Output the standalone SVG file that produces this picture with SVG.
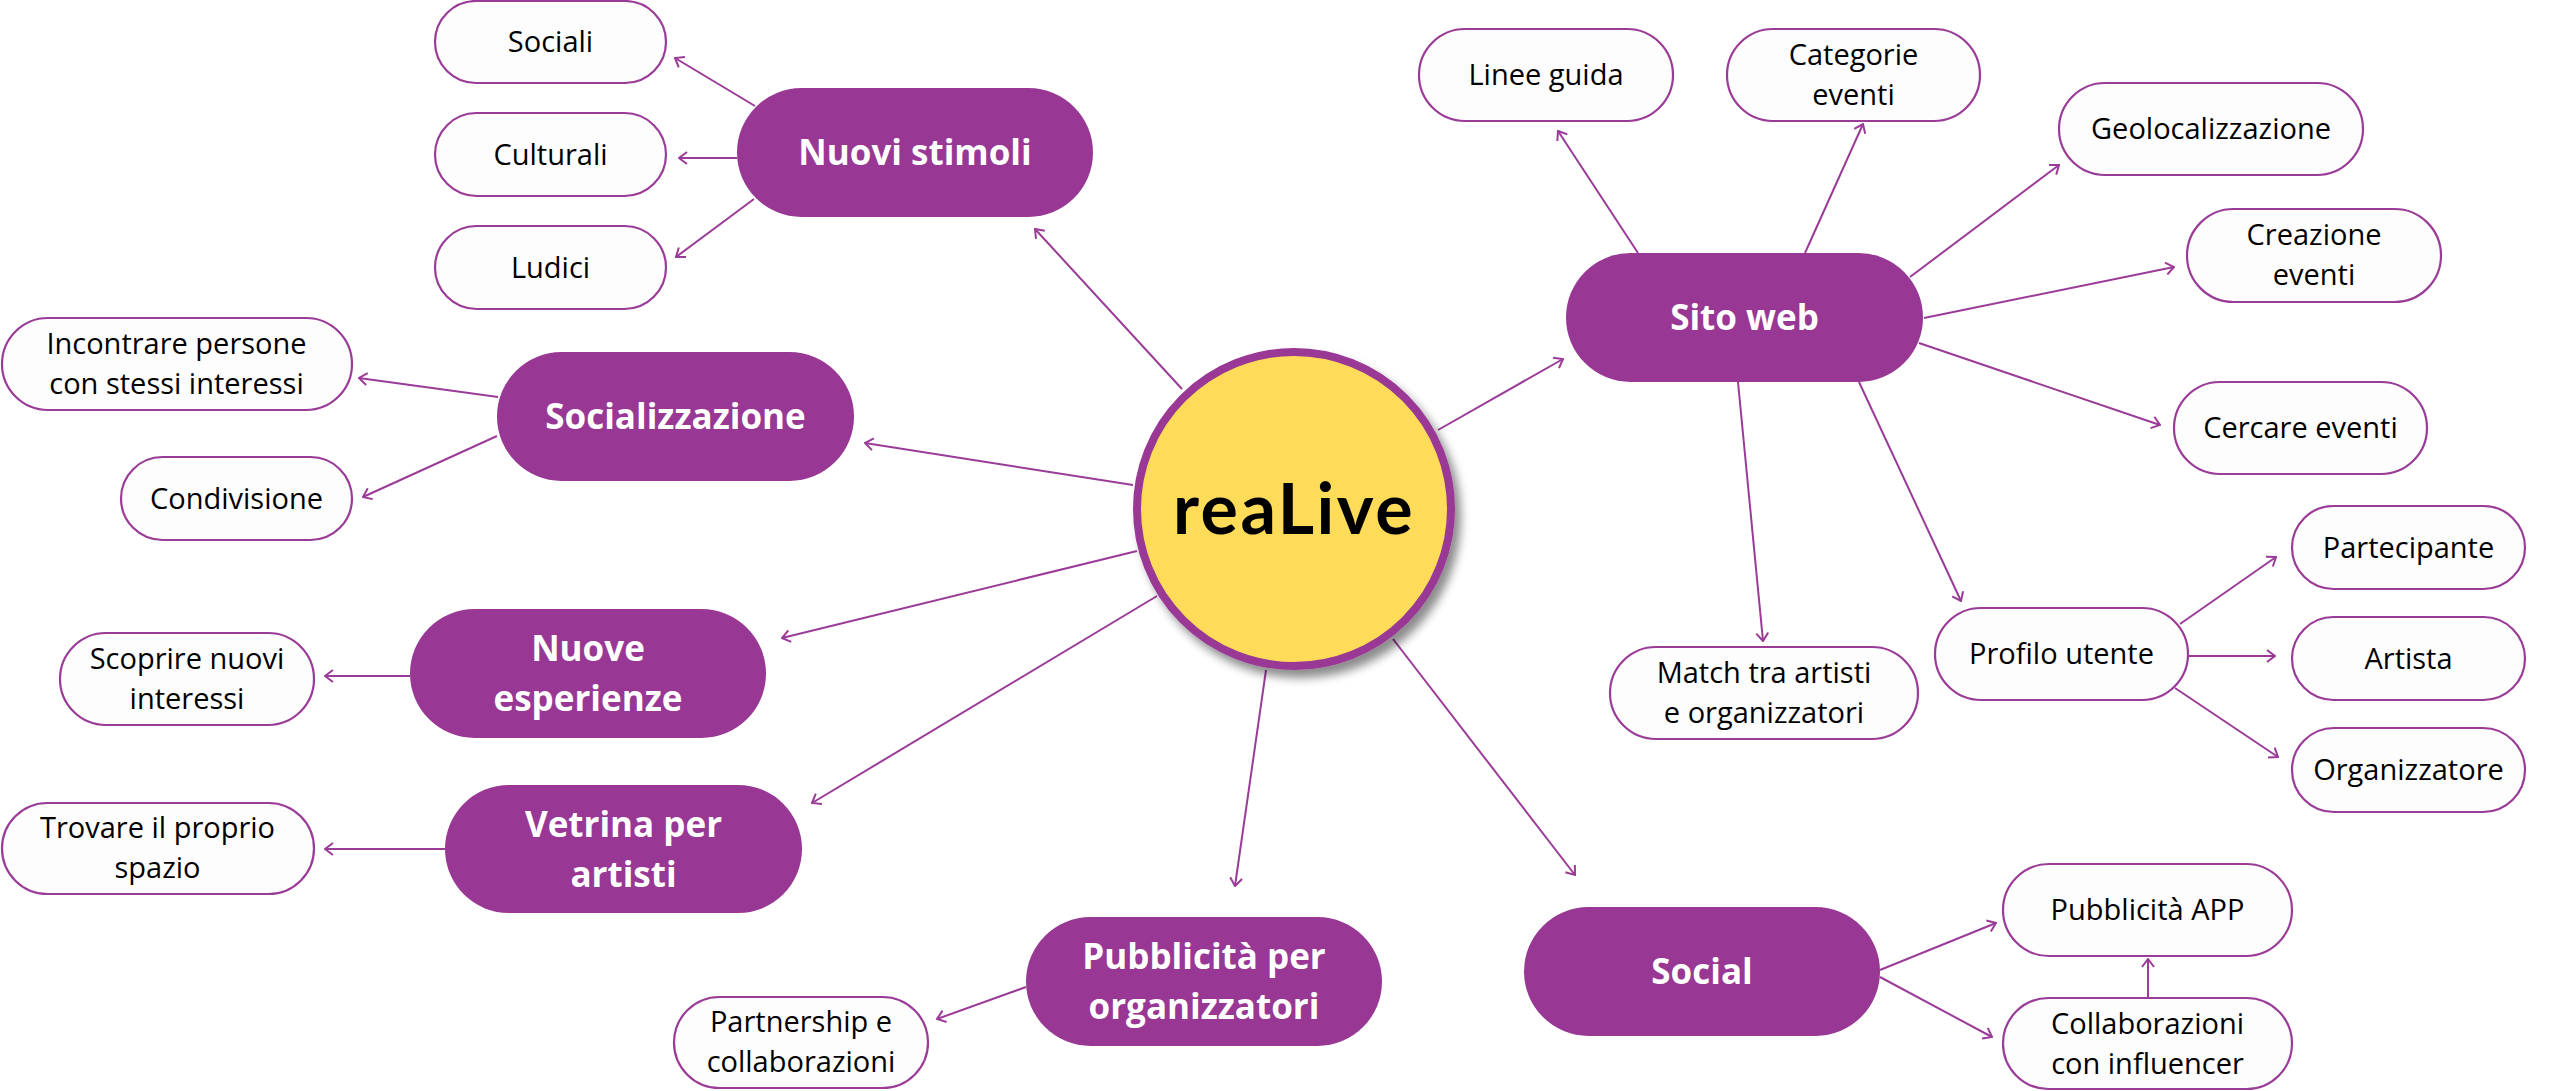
<svg xmlns="http://www.w3.org/2000/svg" width="2560" height="1091" viewBox="0 0 2560 1091">
<style>
.main rect{fill:#993795;}
.main text{fill:#fff;font-family:"Open Sans","Liberation Sans",sans-serif;font-weight:700;font-size:35px;text-anchor:middle;}
.leaf rect{fill:#fdfdfd;stroke:#9b3b98;stroke-width:2.2;}
.leaf text{fill:#000;font-family:"Open Sans","Liberation Sans",sans-serif;font-size:29px;text-anchor:middle;}
#connectors line{stroke:#9b3b98;stroke-width:2;marker-end:url(#arr);}
</style>
<defs>
<marker id="arr" viewBox="0 0 10 14" refX="9" refY="7" markerWidth="10" markerHeight="14" markerUnits="userSpaceOnUse" orient="auto">
<path d="M1,1 L9,7 L1,13" fill="none" stroke="#9b3b98" stroke-width="2"/>
</marker>
<filter id="sh" x="-20%" y="-20%" width="150%" height="150%">
<feDropShadow dx="6" dy="8" stdDeviation="5" flood-color="#000" flood-opacity="0.45"/>
</filter>
</defs>
<rect width="2560" height="1091" fill="#fff"/>

<g id="connectors">
<line x1="1182" y1="389" x2="1035" y2="229"/>
<line x1="1133" y1="485" x2="865" y2="443"/>
<line x1="1137" y1="551" x2="782" y2="638"/>
<line x1="1157" y1="596" x2="812" y2="803"/>
<line x1="1266" y1="670" x2="1235" y2="886"/>
<line x1="1393" y1="639" x2="1575" y2="875"/>
<line x1="1438" y1="430" x2="1563" y2="359"/>
<line x1="755" y1="106" x2="675" y2="58"/>
<line x1="737" y1="158" x2="679" y2="158"/>
<line x1="754" y1="199" x2="676" y2="257"/>
<line x1="498" y1="397" x2="359" y2="378"/>
<line x1="497" y1="436" x2="363" y2="497"/>
<line x1="410" y1="676" x2="325" y2="676"/>
<line x1="445" y1="849" x2="325" y2="849"/>
<line x1="1026" y1="987" x2="937" y2="1019"/>
<line x1="1638" y1="253" x2="1558" y2="131"/>
<line x1="1805" y1="253" x2="1863" y2="124"/>
<line x1="1910" y1="277" x2="2059" y2="165"/>
<line x1="1924" y1="318" x2="2174" y2="267"/>
<line x1="1919" y1="343" x2="2160" y2="425"/>
<line x1="1738" y1="382" x2="1763" y2="641"/>
<line x1="1859" y1="382" x2="1961" y2="601"/>
<line x1="2180" y1="624" x2="2276" y2="557"/>
<line x1="2188" y1="656" x2="2275" y2="656"/>
<line x1="2175" y1="688" x2="2278" y2="757"/>
<line x1="1880" y1="970" x2="1996" y2="923"/>
<line x1="1880" y1="977" x2="1992" y2="1037"/>
<line x1="2148" y1="998" x2="2148" y2="959"/>
</g>

<g id="center">
<circle cx="1294" cy="509" r="157" fill="#fedc5a" stroke="#993795" stroke-width="8" filter="url(#sh)"/>
<text x="1294" y="534" font-family="Lato,'Open Sans',sans-serif" font-weight="700" font-size="70" letter-spacing="2.5" text-anchor="middle" fill="#000">reaLive</text>
</g>

<g id="nuovi-stimoli" class="main"><rect x="737" y="88" width="356" height="129" rx="64.5"/><text x="915" y="165">Nuovi stimoli</text></g>
<g id="socializzazione" class="main"><rect x="497" y="352" width="357" height="129" rx="64.5"/><text x="675.5" y="429">Socializzazione</text></g>
<g id="nuove-esperienze" class="main"><rect x="410" y="609" width="356" height="129" rx="64.5"/><text x="588" y="661">Nuove</text><text x="588" y="711">esperienze</text></g>
<g id="vetrina" class="main"><rect x="445" y="785" width="357" height="128" rx="64"/><text x="623.5" y="837">Vetrina per</text><text x="623.5" y="887">artisti</text></g>
<g id="pubblicita-org" class="main"><rect x="1026" y="917" width="356" height="129" rx="64.5"/><text x="1204" y="969">Pubblicità per</text><text x="1204" y="1019">organizzatori</text></g>
<g id="social" class="main"><rect x="1524" y="907" width="356" height="129" rx="64.5"/><text x="1702" y="984">Social</text></g>
<g id="sito-web" class="main"><rect x="1566" y="253" width="357" height="129" rx="64.5"/><text x="1744.5" y="330">Sito web</text></g>

<g id="sociali" class="leaf"><rect x="435" y="1" width="231" height="82" rx="41"/><text x="550.5" y="52">Sociali</text></g>
<g id="culturali" class="leaf"><rect x="435" y="113" width="231" height="83" rx="41.5"/><text x="550.5" y="165">Culturali</text></g>
<g id="ludici" class="leaf"><rect x="435" y="226" width="231" height="83" rx="41.5"/><text x="550.5" y="278">Ludici</text></g>
<g id="incontrare" class="leaf"><rect x="2" y="318" width="350" height="92" rx="46"/><text x="176.5" y="354">Incontrare persone</text><text x="176.5" y="394">con stessi interessi</text></g>
<g id="condivisione" class="leaf"><rect x="121" y="457" width="231" height="83" rx="41.5"/><text x="236.5" y="509">Condivisione</text></g>
<g id="scoprire" class="leaf"><rect x="60" y="633" width="254" height="92" rx="46"/><text x="187" y="669">Scoprire nuovi</text><text x="187" y="709">interessi</text></g>
<g id="trovare" class="leaf"><rect x="2" y="803" width="312" height="91" rx="45.5"/><text x="157.5" y="838">Trovare il proprio</text><text x="157.5" y="878">spazio</text></g>
<g id="partnership" class="leaf"><rect x="674" y="997" width="254" height="91" rx="45.5"/><text x="801" y="1032">Partnership e</text><text x="801" y="1072">collaborazioni</text></g>
<g id="linee-guida" class="leaf"><rect x="1419" y="29" width="254" height="92" rx="46"/><text x="1546" y="85">Linee guida</text></g>
<g id="categorie" class="leaf"><rect x="1727" y="29" width="253" height="92" rx="46"/><text x="1853.5" y="65">Categorie</text><text x="1853.5" y="105">eventi</text></g>
<g id="geolocalizzazione" class="leaf"><rect x="2059" y="83" width="304" height="92" rx="46"/><text x="2211" y="139">Geolocalizzazione</text></g>
<g id="creazione" class="leaf"><rect x="2187" y="209" width="254" height="93" rx="46.5"/><text x="2314" y="245">Creazione</text><text x="2314" y="285">eventi</text></g>
<g id="cercare" class="leaf"><rect x="2174" y="382" width="253" height="92" rx="46"/><text x="2300.5" y="438">Cercare eventi</text></g>
<g id="match" class="leaf"><rect x="1610" y="647" width="308" height="92" rx="46"/><text x="1764" y="683">Match tra artisti</text><text x="1764" y="723">e organizzatori</text></g>
<g id="profilo" class="leaf"><rect x="1935" y="608" width="253" height="92" rx="46"/><text x="2061.5" y="664">Profilo utente</text></g>
<g id="partecipante" class="leaf"><rect x="2292" y="506" width="233" height="83" rx="41.5"/><text x="2408.5" y="558">Partecipante</text></g>
<g id="artista" class="leaf"><rect x="2292" y="617" width="233" height="83" rx="41.5"/><text x="2408.5" y="669">Artista</text></g>
<g id="organizzatore" class="leaf"><rect x="2292" y="728" width="233" height="84" rx="42"/><text x="2408.5" y="780">Organizzatore</text></g>
<g id="pubblicita-app" class="leaf"><rect x="2003" y="864" width="289" height="92" rx="46"/><text x="2147.5" y="920">Pubblicità APP</text></g>
<g id="collaborazioni" class="leaf"><rect x="2003" y="998" width="289" height="91" rx="45.5"/><text x="2147.5" y="1034">Collaborazioni</text><text x="2147.5" y="1074">con influencer</text></g>
</svg>
